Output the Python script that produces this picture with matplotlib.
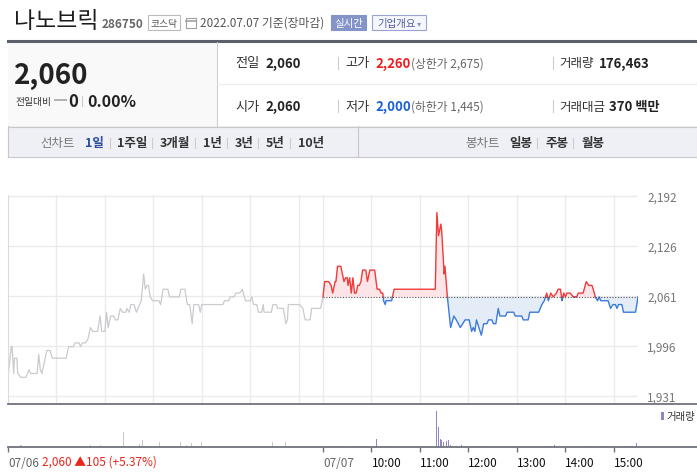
import numpy as np
import matplotlib
matplotlib.use("Agg")
import matplotlib.pyplot as plt
from matplotlib.transforms import Affine2D
from matplotlib.patches import Rectangle
from matplotlib.lines import Line2D

plt.rcParams['font.family'] = ['Noto Sans CJK KR', 'DejaVu Sans']

# --- data -------------------------------------------------------------
# 07/06 session, minutes after 09:00 and price
d1_min = [0, 4, 5, 7, 8, 11, 12, 16, 17, 22,
          26, 28, 36, 38, 40, 42, 48, 52, 55, 72,
          75, 77, 81, 83, 88, 90, 92, 96, 99, 102,
          105, 111, 114, 116, 120, 122, 124, 127, 131, 133,
          136, 139, 142, 146, 147, 150, 152, 156, 159, 161,
          165, 168, 170, 172, 174, 176, 179, 187, 189, 192,
          198, 200, 212, 214, 219, 222, 225, 228, 230, 236,
          238, 240, 266, 268, 273, 275, 280, 282, 287, 290,
          294, 300, 302, 304, 308, 310, 314, 316, 317, 326,
          328, 332, 334, 341, 344, 346, 347, 361, 365, 368,
          374, 376, 387, 390]
d1_px = [1955, 1995, 1995, 1960, 1980, 1980, 1960, 1955, 1955, 1955,
         1965, 1960, 1960, 1985, 1965, 1960, 1990, 1990, 1980, 1980,
         1995, 1995, 1995, 2000, 2000, 1995, 2000, 2000, 2005, 2020,
         2015, 2015, 2035, 2015, 2015, 2040, 2020, 2035, 2035, 2030,
         2030, 2045, 2040, 2040, 2045, 2040, 2050, 2050, 2040, 2045,
         2055, 2090, 2070, 2075, 2075, 2060, 2055, 2055, 2050, 2070,
         2070, 2060, 2060, 2070, 2070, 2050, 2050, 2025, 2050, 2050,
         2040, 2050, 2050, 2055, 2055, 2060, 2060, 2065, 2065, 2070,
         2055, 2055, 2060, 2050, 2050, 2040, 2040, 2050, 2040, 2040,
         2050, 2050, 2045, 2045, 2025, 2030, 2050, 2050, 2045, 2030,
         2030, 2045, 2045, 2060]

# 07/07 session
d2_min = [0, 2, 7, 10, 12, 15, 16, 18, 22, 24,
          26, 28, 30, 31, 33, 35, 37, 39, 41, 43,
          45, 47, 49, 53, 55, 58, 64, 67, 70, 72,
          74, 75, 77, 78, 85, 86, 88, 139, 141, 143,
          146, 147, 150, 151, 154, 158, 162, 165, 170, 173,
          176, 181, 184, 186, 188, 190, 193, 196, 199, 203,
          205, 209, 211, 214, 217, 219, 226, 228, 236, 238,
          246, 248, 254, 256, 267, 271, 274, 277, 279, 282,
          285, 289, 291, 294, 296, 298, 300, 302, 306, 310,
          314, 316, 322, 326, 329, 333, 336, 337, 340, 342,
          344, 353, 356, 359, 362, 364, 366, 370, 372, 387,
          390]
d2_px = [2060, 2080, 2080, 2075, 2065, 2080, 2080, 2100, 2100, 2090,
         2080, 2085, 2085, 2075, 2085, 2065, 2085, 2065, 2065, 2075,
         2075, 2080, 2095, 2095, 2080, 2095, 2095, 2070, 2070, 2065,
         2065, 2055, 2050, 2055, 2055, 2060, 2070, 2070, 2170, 2140,
         2155, 2145, 2090, 2100, 2060, 2020, 2035, 2030, 2020, 2025,
         2030, 2030, 2015, 2020, 2015, 2030, 2020, 2010, 2025, 2025,
         2030, 2030, 2025, 2025, 2045, 2035, 2035, 2040, 2040, 2035,
         2035, 2030, 2030, 2040, 2040, 2050, 2055, 2065, 2055, 2065,
         2060, 2065, 2070, 2070, 2055, 2065, 2060, 2065, 2065, 2060,
         2060, 2065, 2065, 2080, 2075, 2075, 2065, 2060, 2055, 2060,
         2055, 2055, 2045, 2050, 2050, 2045, 2050, 2050, 2040, 2040,
         2060]

prev_close = 2060

# volume (shares)
v1_min = [15, 17, 55, 102, 107, 114, 123, 143, 161, 163, 166, 168, 188,
          214, 221, 227, 229, 240, 273, 282, 295, 303, 307, 328, 344, 371]
v1_vol = [1900, 2600, 1500, 2600, 1500, 2600, 1500, 16900, 1500, 3100, 7700, 1500, 6100,
          6100, 2600, 4900, 1000, 6100, 1000, 1000, 1000, 1000, 1000, 5400, 6100, 1000]
v2_min = [0, 3, 10, 18, 21, 22, 42, 48, 66, 72, 76, 141, 143, 146, 147, 149, 151,
          153, 155, 156, 158, 160, 165, 172, 183, 187, 192, 196, 199, 280, 287,
          301, 324, 346, 360, 364, 375, 383, 388]
v2_vol = [1500, 1200, 1200, 1000, 1000, 1000, 1200, 1200, 8800, 1200, 1200, 41000, 23300, 8800, 7700, 5800, 6500,
          6500, 7700, 10300, 2600, 1200, 1000, 2600, 1000, 13400, 1200, 1200, 1200, 1200, 2600,
          1000, 1000, 1500, 1000, 1000, 1000, 1000, 4200]

ytick_vals = np.linspace(1931, 2192, 5)
hour_labels = ['10:00', '11:00', '12:00', '13:00', '14:00', '15:00']

# --- figure -----------------------------------------------------------
W, H = 697, 477
fig = plt.figure(figsize=(W / 100, H / 100), dpi=100)
fig.patch.set_facecolor('white')
PX = Affine2D().scale(1 / W, -1 / H).translate(0, 1) + fig.transFigure


def rect(l, t, r, b):
    return [l / W, 1 - b / H, (r - l) / W, (b - t) / H]


def txt(x, y, s, **kw):
    kw.setdefault('va', 'center')
    kw.setdefault('size', 9.5)
    kw.setdefault('color', '#333333')
    fig.text(x, y, s, transform=PX, **kw)


def box(l, t, r, b, **kw):
    fig.patches.append(Rectangle((l, t), r - l, b - t, transform=PX, **kw))


def hline(x0, x1, y, **kw):
    fig.add_artist(Line2D([x0, x1], [y, y], transform=PX, **kw))


def vline(x, y0, y1, **kw):
    fig.add_artist(Line2D([x, x], [y0, y1], transform=PX, **kw))


# header
txt(14, 21, '나노브릭', size=16.5, color='#1d1d1d')
txt(102, 24, '286750', size=8.5, weight='bold', color='#666666')
box(148, 16, 180, 31, fc='white', ec='#bbbbbb', lw=0.8)
txt(164, 23.5, '코스닥', size=7, ha='center', color='#555555')
box(186, 19, 196, 29, fc='white', ec='#a0a0a0', lw=0.8)
hline(186, 196, 21.5, color='#a0a0a0', lw=1.2)
txt(200, 23.5, '2022.07.07 기준(장마감)', size=8.5, color='#555555')
box(331, 16, 366, 31, fc='#8494c8', ec='#8494c8', lw=0.8)
txt(348.5, 23.5, '실시간', size=7.5, ha='center', color='white')
box(372, 16, 426, 31, fc='#f6f7fc', ec='#97a3d4', lw=0.8)
txt(377, 23.5, '기업개요', size=7.5, color='#4d5c9c')
txt(417, 23.5, '▾', size=6, color='#8a96c8', family=['DejaVu Sans'])

hline(8, 697, 41.5, color='#5b606b', lw=2.2)
box(8, 43, 217, 127, fc='#f9f9f9', ec='none')
vline(217, 43, 127, color='#d0d0d0', lw=0.8)
hline(217, 697, 85, color='#ececec', lw=0.8)

txt(14, 76, '2,060', size=20, weight='bold', color='#222222')
txt(15, 102, '전일대비', size=7, color='#333333')
box(54, 99.5, 67, 102, fc='#b3b3b3', ec='none')
txt(68, 102, '0', size=12, weight='bold', color='#222222')
vline(82, 97, 107, color='#cccccc', lw=0.8)
txt(87, 102, '0.00%', size=11.5, weight='bold', color='#222222')

for y, lab, val in [(64, '전일', '2,060'), (107, '시가', '2,060')]:
    txt(235, y, lab)
    txt(265, y, val, weight='bold', color='#222222')
for y in (64, 107):
    vline(338, y - 6, y + 6, color='#cccccc', lw=0.8)
    vline(553, y - 6, y + 6, color='#cccccc', lw=0.8)
txt(345, 64, '고가')
txt(375, 64, '2,260', weight='bold', color='#f01e1e')
txt(411, 64, '(상한가 2,675)', size=8.5, color='#666666')
txt(345, 107, '저가')
txt(375, 107, '2,000', weight='bold', color='#1a5fd6')
txt(411, 107, '(하한가 1,445)', size=8.5, color='#666666')
txt(559, 64, '거래량', size=9)
txt(599, 64, '176,463', weight='bold', color='#222222')
txt(559, 107, '거래대금', size=9)
txt(609, 107, '370 백만', weight='bold', color='#222222')

# tab bar
box(8, 127, 697, 158, fc='#eef0f5', ec='none')
hline(8, 697, 127.5, color='#c8c8c8', lw=0.8)
hline(8, 697, 158, color='#c8c8c8', lw=0.8)
vline(8, 127, 158, color='#c8c8c8', lw=0.8)
vline(358, 127, 158, color='#c8c8c8', lw=0.8)
txt(40, 144, '선차트', size=9, color='#777777')
txt(85, 144, '1일', size=9, weight='bold', color='#2d4e9d')
for xs_, lab in [(117, '1주일'), (160, '3개월'), (203, '1년'), (235, '3년'), (266, '5년'), (298, '10년'),
                 (509, '일봉'), (545, '주봉'), (582, '월봉')]:
    txt(xs_, 144, lab, size=9, weight='bold', color='#333333')
for xs_ in (110, 152, 195, 227, 258, 290, 537, 573):
    vline(xs_, 139, 149, color='#cccccc', lw=0.8)
txt(465, 144, '봉차트', size=9, color='#777777')

# --- price panel -------------------------------------------------------
ax = fig.add_axes(rect(8, 196, 638, 405))
ax.set_xlim(0, 13)
ax.set_ylim(1920.2, 2193)
for s in ('top', 'right'):
    ax.spines[s].set_visible(False)
ax.spines['left'].set_color('#dcdcdc')
ax.spines['bottom'].set_visible(False)
grid_x = [1, 2, 3, 4, 5, 6, 6.5, 7.5, 8.5, 9.5, 10.5, 11.5, 12.5]
ax.set_xticks(grid_x)
ax.set_yticks(ytick_vals)
ax.set_yticklabels([f'{int(v):,}' for v in ytick_vals])
ax.yaxis.tick_right()
ax.tick_params(axis='y', length=0, pad=6.5, labelsize=8.5, labelcolor='#777777')
ax.tick_params(axis='x', length=0, labelbottom=False)
ax.grid(color='#ebebeb', lw=1)
ax.set_axisbelow(True)

x1 = np.array(d1_min) / 60
ax.plot(x1, d1_px, color='#cacacf', lw=0.9)

x2 = 6.5 + np.array(d2_min) / 60
y2 = np.array(d2_px, float)
base = prev_close
xs, ys = [x2[0]], [y2[0]]
for i in range(1, len(x2)):
    a, b = y2[i - 1] - base, y2[i] - base
    if a * b < 0:
        t = a / (a - b)
        xs.append(x2[i - 1] + t * (x2[i] - x2[i - 1]))
        ys.append(base)
    xs.append(x2[i])
    ys.append(y2[i])
xs = np.array(xs)
ys = np.array(ys)
ax.fill_between(xs, ys, base, where=ys >= base, color='#fde4e7', lw=0, interpolate=True)
ax.fill_between(xs, ys, base, where=ys <= base, color='#e4ecf8', lw=0, interpolate=True)
ax.plot(xs, np.where(ys <= base, ys, np.nan), color='#3a7bdc', lw=1.0)
ax.plot(xs, np.where(ys >= base, ys, np.nan), color='#f23a3a', lw=1.0)
ax.hlines(base, 6.5, 13, colors='#555555', linestyles=(0, (1, 1.5)), lw=0.8)

hline(8, 697, 405, color='#70737c', lw=1.3)

# --- volume panel ------------------------------------------------------
axv = fig.add_axes(rect(8, 405, 638, 448))
axv.set_xlim(0, 13)
axv.set_ylim(0, 41000 * 43 / 36)
axv.bar(np.array(v1_min) / 60, v1_vol, width=0.018, color='#c8c8cc', lw=0)
axv.bar(6.5 + np.array(v2_min) / 60, v2_vol, width=0.018, color='#9385c6', lw=0)
for s in ('top', 'right', 'left', 'bottom'):
    axv.spines[s].set_visible(False)
axv.set_yticks([])
axv.set_xticks([0, 6.5] + [7.5, 8.5, 9.5, 10.5, 11.5, 12.5])
axv.set_xticklabels(['07/06', '07/07'] + hour_labels)
axv.tick_params(axis='x', length=3.5, width=1, color='#70737c', pad=3, labelsize=8.5)
for i, lab in enumerate(axv.get_xticklabels()):
    lab.set_horizontalalignment('left')
    lab.set_color('#666666' if i < 2 else '#111111')
hline(8, 697, 448, color='#70737c', lw=1.3)

txt(42, 462, '2,060 ▲105 (+5.37%)', size=8.5, color='#e8261c')
box(661, 413, 663.5, 421, fc='#9385c6', ec='none')
txt(666, 417, '거래량', size=7.5, color='#333333')

fig.savefig('out.png', dpi=100)
